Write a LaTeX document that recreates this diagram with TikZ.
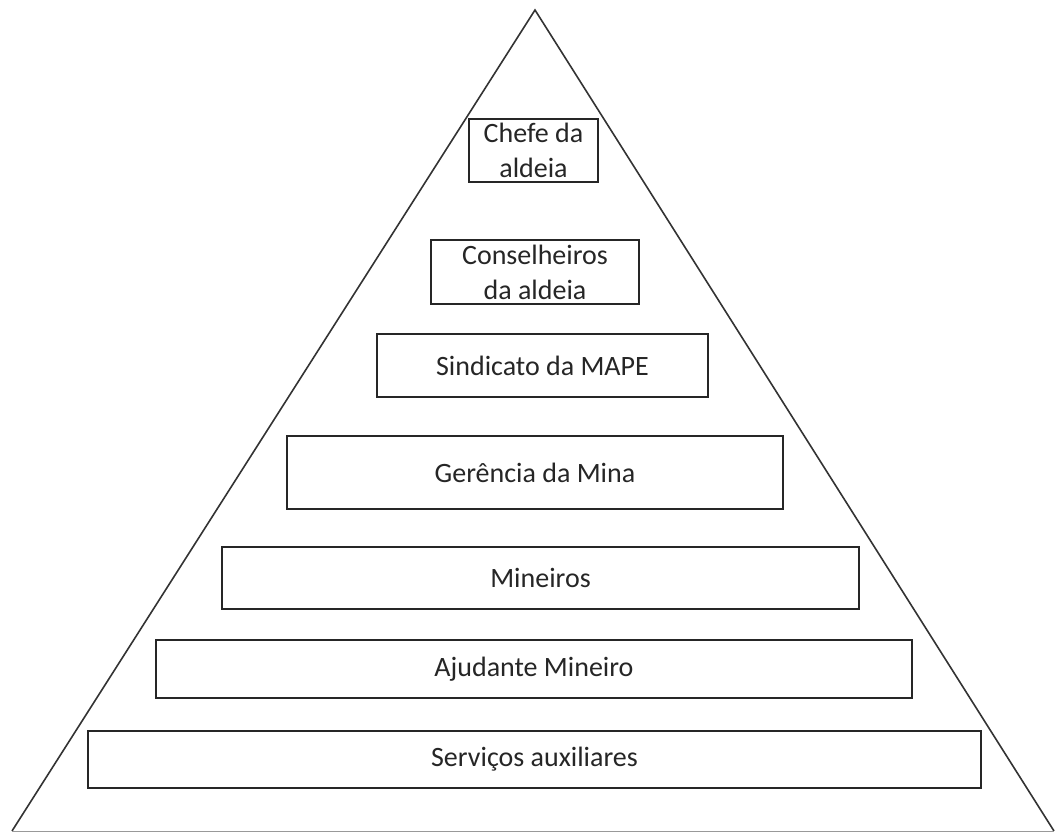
\documentclass[tikz,border=0pt]{standalone}
\usepackage{fontspec}
\setmainfont{Carlito}
\begin{document}
\begin{tikzpicture}[x=1pt,y=-1pt,
  lvl/.style={draw=black!85,line width=2pt,fill=white,align=center,
    font=\fontsize{28}{35}\selectfont,text=black!85,inner sep=0pt,
    minimum width=#1},
  lvl/.default=100pt]
\useasboundingbox (0,0) rectangle (1055,832);
\coordinate (apex) at (535,10);
\coordinate (bl) at (12,831);
\coordinate (br) at (1054,831);
\draw[line width=1.6pt,black!80] (bl) -- (apex) -- (br);
\draw[line width=1pt,black!40] (bl) -- (br);
\node[lvl=129pt,minimum height=63pt] (b1) at (533.5,150.5) {Chefe da\\aldeia};
\node[lvl=208pt,minimum height=64pt] (b2) at (535,272) {Conselheiros\\da aldeia};
\node[lvl=331pt,minimum height=63pt] (b3) at (542.5,365.5) {Sindicato da MAPE};
\node[lvl=496pt,minimum height=73pt] (b4) at (535,472.5) {Gerência da Mina};
\node[lvl=637pt,minimum height=62pt] (b5) at (540.5,578) {Mineiros};
\node[lvl=756pt,minimum height=58pt] (b6) at (534,669) {Ajudante Mineiro};
\node[lvl=893pt,minimum height=57pt] (b7) at (534.5,759.5) {Serviços auxiliares};
\end{tikzpicture}
\end{document}
